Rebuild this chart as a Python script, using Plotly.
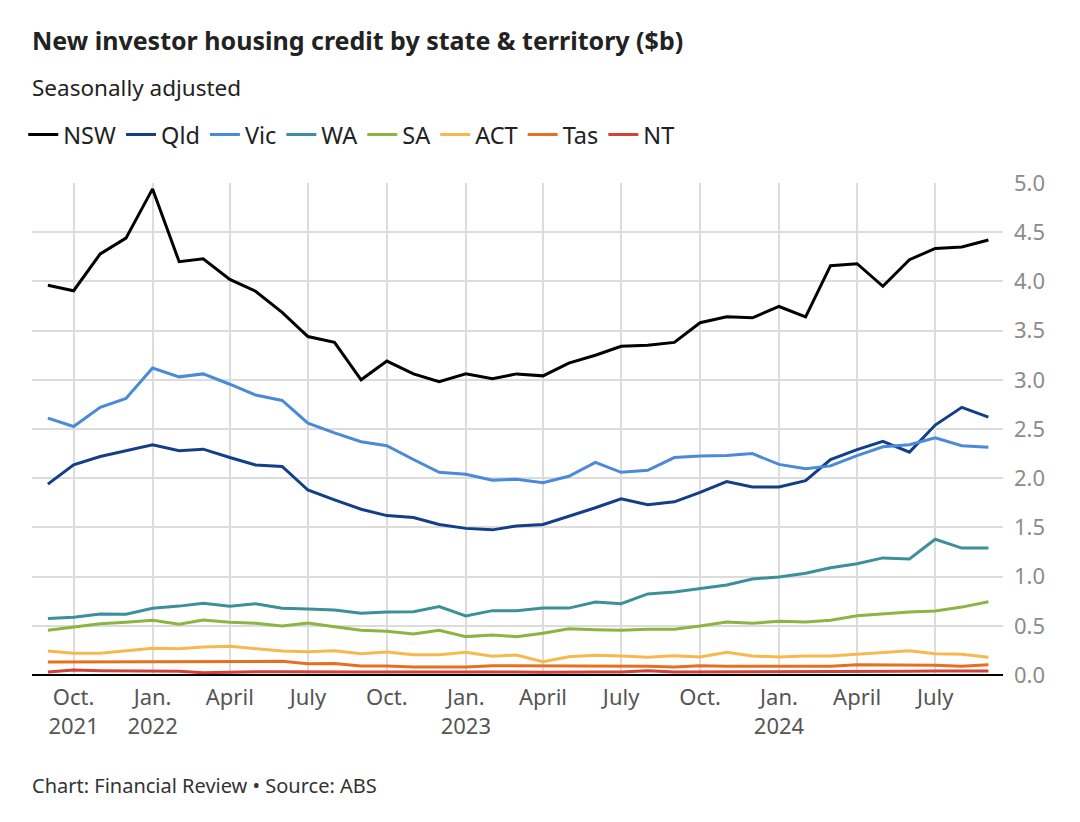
import plotly.graph_objects as go
import pandas as pd

months = pd.date_range("2021-09-01", "2024-09-01", freq="MS")

nsw = [3.96, 3.905, 4.28, 4.44, 4.94, 4.20, 4.23, 4.02, 3.90, 3.685, 3.44, 3.38, 3.00,
       3.19, 3.06, 2.98, 3.06, 3.01, 3.06, 3.04, 3.17, 3.25, 3.34, 3.35, 3.38,
       3.58, 3.64, 3.63, 3.745, 3.64, 4.16, 4.18, 3.95, 4.22, 4.335, 4.35, 4.42]
qld = [1.94, 2.135, 2.22, 2.28, 2.34, 2.28, 2.295, 2.21, 2.135, 2.12, 1.88, 1.78, 1.685,
       1.62, 1.60, 1.53, 1.49, 1.475, 1.515, 1.53, 1.61, 1.70, 1.79, 1.73, 1.76,
       1.855, 1.965, 1.91, 1.91, 1.975, 2.19, 2.29, 2.375, 2.265, 2.54, 2.72, 2.62]
vic = [2.61, 2.525, 2.72, 2.81, 3.12, 3.03, 3.06, 2.955, 2.845, 2.79, 2.56, 2.46, 2.37,
       2.33, 2.19, 2.06, 2.04, 1.98, 1.99, 1.955, 2.02, 2.16, 2.06, 2.08, 2.21,
       2.225, 2.23, 2.25, 2.14, 2.095, 2.125, 2.23, 2.32, 2.34, 2.41, 2.33, 2.315]
wa = [0.573, 0.587, 0.62, 0.617, 0.678, 0.70, 0.73, 0.70, 0.725, 0.678, 0.671, 0.66, 0.627,
      0.64, 0.644, 0.695, 0.60, 0.654, 0.654, 0.68, 0.68, 0.742, 0.725, 0.824, 0.844,
      0.882, 0.915, 0.976, 0.997, 1.034, 1.09, 1.13, 1.19, 1.18, 1.38, 1.29, 1.29]
sa = [0.454, 0.488, 0.522, 0.536, 0.556, 0.515, 0.56, 0.536, 0.525, 0.498, 0.529, 0.49, 0.454,
      0.444, 0.417, 0.454, 0.39, 0.407, 0.39, 0.424, 0.471, 0.461, 0.454, 0.464, 0.464,
      0.499, 0.539, 0.525, 0.546, 0.539, 0.556, 0.603, 0.624, 0.64, 0.65, 0.69, 0.745]
act = [0.244, 0.22, 0.22, 0.244, 0.271, 0.268, 0.285, 0.292, 0.268, 0.244, 0.237, 0.247, 0.217,
       0.234, 0.206, 0.206, 0.23, 0.19, 0.203, 0.135, 0.186, 0.20, 0.193, 0.18, 0.196,
       0.183, 0.23, 0.193, 0.183, 0.193, 0.193, 0.21, 0.23, 0.247, 0.217, 0.21, 0.18]
tas = [0.132, 0.132, 0.139, 0.139, 0.135, 0.135, 0.139, 0.135, 0.139, 0.139, 0.115, 0.118, 0.092,
       0.092, 0.081, 0.083, 0.081, 0.095, 0.095, 0.088, 0.088, 0.088, 0.095, 0.088, 0.081,
       0.095, 0.088, 0.088, 0.088, 0.088, 0.088, 0.105, 0.105, 0.105, 0.098, 0.088, 0.105]
nt = [0.031, 0.051, 0.044, 0.044, 0.040, 0.037, 0.024, 0.031, 0.034, 0.034, 0.031, 0.031, 0.031,
      0.031, 0.031, 0.031, 0.037, 0.031, 0.031, 0.027, 0.031, 0.031, 0.031, 0.044, 0.031,
      0.031, 0.034, 0.031, 0.034, 0.034, 0.037, 0.037, 0.037, 0.037, 0.040, 0.040, 0.040]

series = [("NSW", nsw, "#000000"), ("Qld", qld, "#123f87"), ("Vic", vic, "#4a8ad8"),
          ("WA", wa, "#3d8f9b"), ("SA", sa, "#8db443"), ("ACT", act, "#f6b94f"),
          ("Tas", tas, "#e6701f"), ("NT", nt, "#d2413a")]

tick_dates = ["2021-10-01", "2022-01-01", "2022-04-01", "2022-07-01", "2022-10-01",
              "2023-01-01", "2023-04-01", "2023-07-01", "2023-10-01", "2024-01-01",
              "2024-04-01", "2024-07-01"]
tick_labels = ["Oct.<br>2021", "Jan.<br>2022", "April", "July", "Oct.", "Jan.<br>2023",
               "April", "July", "Oct.", "Jan.<br>2024", "April", "July"]

FONT = "Noto Sans"

fig = go.Figure()
for name, vals, col in series:
    fig.add_trace(go.Scatter(x=months, y=vals, name=name, mode="lines",
                             line=dict(color=col, width=3)))

fig.update_layout(
    width=1080, height=822,
    margin=dict(l=24, r=85, t=175, b=155),
    paper_bgcolor="white", plot_bgcolor="white",
    font=dict(family=FONT, color="#333"),
    showlegend=True,
    legend=dict(orientation="h", x=-0.009, xanchor="left", y=1.098, yanchor="middle",
                font=dict(size=23.5, color="#222", family=FONT), itemwidth=30,
                traceorder="normal"),
    xaxis=dict(range=["2021-08-13 12:00", "2024-09-18"], tickvals=tick_dates,
               ticktext=tick_labels, showgrid=True, gridcolor="#dcdcdc", gridwidth=1.5,
               tickfont=dict(size=22, color="#555"), ticks="", showline=False,
               zeroline=False, ticklabelstandoff=7),
    yaxis=dict(range=[0, 5], side="right", tickvals=[0, 0.5, 1, 1.5, 2, 2.5, 3, 3.5, 4, 4.5, 5],
               ticktext=["0.0", "0.5", "1.0", "1.5", "2.0", "2.5", "3.0", "3.5", "4.0", "4.5", "5.0"],
               showgrid=True, gridcolor="#dcdcdc", gridwidth=1.5,
               tickfont=dict(size=22, color="#8c8c8c"), ticks="", zeroline=True,
               zerolinecolor="#000", zerolinewidth=2, ticklabelstandoff=10),
)

fig.add_annotation(xref="paper", yref="paper", x=-0.002, y=1.2907, xanchor="left", yanchor="middle",
                   text="<b>New investor housing credit by state &amp; territory ($b)</b>",
                   showarrow=False, font=dict(size=25, color="#222", family=FONT))
fig.add_annotation(xref="paper", yref="paper", x=-0.002, y=1.195, xanchor="left", yanchor="middle",
                   text="Seasonally adjusted", showarrow=False,
                   font=dict(size=22.5, color="#222", family=FONT))
fig.add_annotation(xref="paper", yref="paper", x=-0.002, y=-0.2256, xanchor="left", yanchor="middle",
                   text="Chart: Financial Review • Source: ABS", showarrow=False,
                   font=dict(size=20, color="#333", family=FONT))

fig.write_html("out.html")
